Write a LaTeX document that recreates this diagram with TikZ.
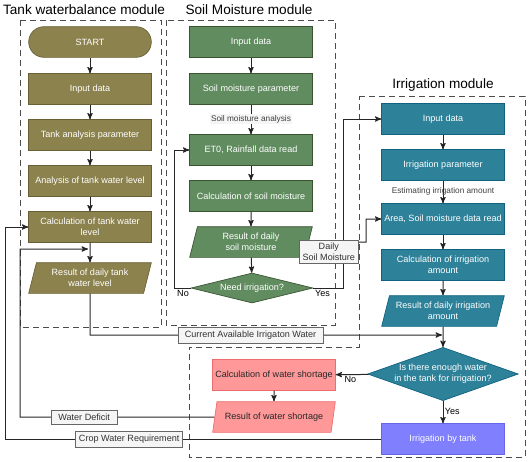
\documentclass[tikz,border=0pt]{standalone}
\usepackage{fontspec}
\setmainfont{Liberation Sans}
\usepackage{tikz}
\usetikzlibrary{arrows}
\usetikzlibrary{shapes.geometric}
\definecolor{tankc}{RGB}{140,130,78}
\definecolor{tankd}{RGB}{105,95,52}
\definecolor{soilc}{RGB}{96,140,96}
\definecolor{soild}{RGB}{58,84,49}
\definecolor{irrc}{RGB}{45,129,153}
\definecolor{irrd}{RGB}{16,98,128}
\definecolor{shortc}{RGB}{255,153,153}
\definecolor{shortd}{RGB}{238,108,108}
\definecolor{pumpc}{RGB}{128,128,255}
\definecolor{pumpd}{RGB}{102,102,230}
\definecolor{lblc}{RGB}{245,245,245}

\begin{document}
\begin{tikzpicture}[x=0.75pt,y=-0.75pt,>=stealth',
    main node/.style={rectangle,draw,text=white,font=\fontsize{6.8}{8.2}\selectfont,align=center,
      minimum width=92pt,minimum height=23pt,inner sep=1pt,line width=0.5pt},
    io node/.style={main node,trapezium,trapezium left angle=69,trapezium right angle=111,trapezium stretches body},
    dec node/.style={main node,diamond,inner sep=0pt},
    tank/.style={fill=tankc,draw=tankd}, soil/.style={fill=soilc,draw=soild},
    irr/.style={fill=irrc,draw=irrd}, short/.style={fill=shortc,draw=shortd,text=black!85},
    pump/.style={fill=pumpc,draw=pumpd},
    lbl node/.style={rectangle,draw=black!60,fill=lblc,text=black!80,font=\fontsize{6.8}{8.2}\selectfont,align=center,inner xsep=2.5pt,inner ysep=2.8pt,line width=0.5pt},
    note node/.style={text=black!75,font=\fontsize{6.2}{7.4}\selectfont,inner sep=1pt},
    yn node/.style={text=black,font=\fontsize{6.8}{8.2}\selectfont,inner sep=1pt},
    title node/.style={font=\fontsize{10.2}{12}\selectfont,text=black,inner sep=0pt},
    conn/.style={->,draw=black!85,line width=0.75pt},
    module/.style={-,draw=black!70,line width=0.6pt,dash pattern=on 4.5pt off 3pt}]
  \useasboundingbox (0,0) rectangle (530,461);
  % modules
  \draw[module] (20,20) rectangle (161,327);
  \draw[module] (166,20) rectangle (335,325);
  \draw[module] (359,96) -- (525,96) -- (525,457) -- (189,457) -- (189,347) -- (359,347) -- cycle;
  \node[title node] (tt) at (84,10) {Tank waterbalance module};
  \node[title node] (st) at (249,10) {Soil Moisture module};
  \node[title node] (it) at (443,85) {Irrigation module};
  % tank waterbalance
  \node[main node,tank,rounded corners=11.5pt] (t1) at (90,42) {START};
  \node[main node,tank] (t2) at (90,89) {Input data};
  \node[main node,tank] (t3) at (90,135) {Tank analysis parameter};
  \node[main node,tank] (t4) at (90,181) {Analysis of tank water level};
  \node[main node,tank] (t5) at (90,227) {Calculation of tank water\\level};
  \node[io node,tank] (t6) at (90,278) {Result of daily tank\\water level};
  \coordinate (tj) at (88,249);
  % soil moisture
  \node[main node,soil] (s1) at (251,42) {Input data};
  \node[main node,soil] (s2) at (251,89) {Soil moisture parameter};
  \node[main node,soil] (s3) at (251,150) {ET0, Rainfall data read};
  \node[main node,soil] (s4) at (251,196) {Calculation of soil moisture};
  \node[io node,soil] (s5) at (251,242) {Result of daily\\soil moisture};
  \node[dec node,soil,aspect=4.07,minimum width=91.5pt,minimum height=22.5pt] (s6) at (252,288) {Need irrigation?};
  % irrigation
  \node[main node,irr] (i1) at (443,119) {Input data};
  \node[main node,irr] (i2) at (443,165) {Irrigation parameter};
  \node[main node,irr] (i3) at (443,219) {Area, Soil moisture data read};
  \node[main node,irr] (i4) at (443,265) {Calculation of irrigation\\amount};
  \node[io node,irr] (i5) at (443,311) {Result of daily irrigation\\amount};
  \node[dec node,irr,aspect=2.8,minimum width=113pt,minimum height=40pt,inner sep=-1pt] (i6) at (443,374) {Is there enough water\\in the tank for irrigation?};
  \node[main node,pump] (i7) at (443,439) {Irrigation by tank};
  \coordinate (ij) at (442,335);
  % water shortage
  \node[main node,short] (w1) at (274,375) {Calculation of water shortage};
  \node[io node,short] (w2) at (274,417) {Result of water shortage};
  % connectors
  \path[conn] (t1) edge (t2);
  \path[conn] (t2) edge (t3);
  \path[conn] (t3) edge (t4);
  \path[conn] (t4) edge (t5);
  \path[conn] (t5) edge (t6);
  \path[conn] (s1) edge (s2);
  \path[conn] (s2) edge node[note node,fill=lblc,pos=0.48] {Soil moisture analysis} (s3);
  \path[conn] (s3) edge (s4);
  \path[conn] (s4) edge (s5);
  \path[conn] (s5) edge (s6);
  \path[conn] (i1) edge (i2);
  \path[conn] (i2) edge node[note node,pos=0.45] {Estimating irrigation amount} (i3);
  \path[conn] (i3) edge (i4);
  \path[conn] (i4) edge (i5);
  \path[conn] (i5) edge (i6);
  \path[conn] (i6) edge node[yn node,right,pos=0.45] {Yes} (i7);
  \path[conn] (i6) edge node[yn node,below,pos=0.55] {No} (w1);
  \path[conn] (w1) edge (w2);
  % loops between modules
  \draw[conn] (s6.west) node[yn node,below left] {No} -- (174,288) |- (s3.west);
  \draw[conn] (s6.east) node[yn node,below right] {Yes} -- (343,288) |- (i1.west);
  \draw[conn] (s5.east) -- node[lbl node,anchor=north,pos=0.35,yshift=1.5pt,inner ysep=2pt] {Daily\\Soil Moisture} (366,242) |- (i3.west);
  \draw[conn] (t6.south) -- (90,335) -- node[lbl node,pos=0.456,inner xsep=5pt] {Current Available Irrigaton Water} (ij);
  \draw[conn] (w2.west) -- node[lbl node,pos=0.67,inner xsep=5.5pt] {Water Deficit} (20,417) |- (tj);
  \draw[conn] (i7.west) -- node[lbl node,pos=0.67] {Crop Water Requirement} (5,439) |- (t5.west);
\end{tikzpicture}
\end{document}
